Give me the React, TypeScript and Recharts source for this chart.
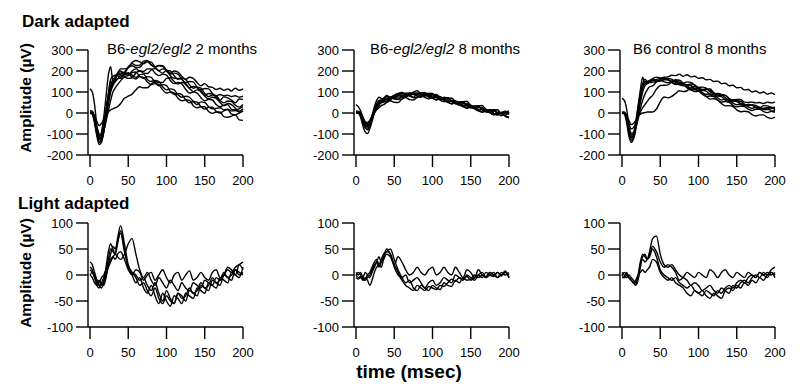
import React from 'react';
import { LineChart, Line, XAxis, YAxis } from 'recharts';

const FONT = "'Liberation Sans', Arial, Helvetica, sans-serif";

// sample times (msec), denser during the a-wave / b-wave onset
const times = [0, 3, 6, 9, 12, 15, 18, 21, 24, 27, 30, 33, 36, 40, 45, 50, 55, 60, 65, 70, 75, 80, 85, 90, 95, 100,
  105, 110, 115, 120, 125, 130, 135, 140, 145, 150, 155, 160, 165, 170, 175, 180, 185, 190, 195, 200];

const xTicks = [0, 50, 100, 150, 200];
const darkTicks = [-200, -100, 0, 100, 200, 300];
const lightTicks = [-100, -50, 0, 50, 100];

// Dark adapted, B6-egl2/egl2 2 months
const dark2mo = [
  [0, -5, -40, -100, -140, -120, -60, 20, 90, 150, 140, 170, 190, 210, 210, 215, 240, 250, 243, 235, 245, 242, 220, 202, 210, 205, 177, 165, 165, 162, 135, 120, 127, 120, 100, 85, 93, 90, 73, 60, 77, 72, 61, 48, 67, 65],
  [0, 0, -30, -90, -120, -90, -20, 80, 180, 220, 150, 160, 185, 190, 195, 220, 235, 227, 228, 247, 250, 230, 220, 227, 225, 205, 190, 200, 195, 175, 160, 170, 165, 145, 130, 140, 125, 122, 112, 118, 108, 115, 105, 118, 108, 115],
  [115, 100, 40, -60, -110, -130, -90, -20, 50, 110, 140, 150, 165, 165, 185, 192, 180, 170, 183, 185, 160, 150, 155, 150, 125, 110, 115, 110, 87, 75, 80, 75, 55, 40, 53, 50, 30, 20, 22, 25, 15, 18, 10, 12, 5, 8],
  [0, 0, -15, -40, -60, -50, -30, -10, 5, 15, 20, 25, 30, 45, 70, 80, 90, 110, 125, 120, 120, 137, 150, 145, 145, 165, 168, 150, 138, 145, 140, 117, 102, 110, 105, 80, 68, 75, 70, 50, 35, 45, 40, 23, 8, 20],
  [0, -5, -50, -110, -150, -140, -90, -20, 40, 100, 130, 150, 160, 180, 175, 178, 200, 210, 200, 198, 210, 210, 190, 178, 185, 180, 155, 140, 145, 138, 113, 95, 100, 95, 73, 58, 65, 62, 40, 30, 37, 40, 17, 15, 20, 30],
  [10, 10, -20, -80, -120, -110, -60, 10, 80, 130, 160, 172, 178, 170, 187, 188, 170, 162, 173, 170, 147, 135, 140, 135, 110, 95, 100, 95, 70, 58, 63, 60, 35, 25, 30, 30, 7, -2, 5, 5, -17, -20, -15, -8, -33, -35],
  [0, -2, -35, -95, -135, -130, -80, -10, 60, 120, 145, 165, 180, 185, 190, 215, 225, 217, 218, 237, 245, 228, 218, 225, 222, 200, 185, 190, 185, 160, 145, 150, 148, 123, 110, 117, 115, 93, 82, 88, 82, 85, 78, 82, 75, 80],
  [0, 0, -25, -70, -100, -110, -85, -40, 10, 60, 100, 120, 135, 153, 170, 165, 168, 190, 200, 190, 188, 205, 212, 200, 190, 203, 200, 177, 160, 167, 160, 135, 118, 123, 118, 93, 78, 85, 82, 60, 48, 57, 55, 37, 28, 40],
  [5, 5, -30, -90, -125, -115, -70, 0, 90, 160, 175, 180, 185, 200, 187, 180, 193, 195, 175, 165, 173, 170, 145, 130, 135, 130, 103, 88, 93, 88, 63, 48, 55, 52, 30, 18, 27, 28, 7, 0, 10, 16, -5, -8, 0, 10],
];

// Dark adapted, B6-egl2/egl2 8 months
const dark8mo = [
  [40, 30, 10, -20, -50, -60, -45, -15, 15, 40, 55, 60, 65, 78, 71, 70, 84, 93, 84, 84, 94, 96, 88, 80, 89, 88, 74, 64, 74, 70, 56, 44, 54, 50, 36, 24, 34, 30, 16, 4, 14, 13, -2, -13, 2, 0],
  [0, 0, -20, -60, -90, -98, -75, -40, 0, 30, 50, 55, 60, 57, 74, 83, 76, 77, 94, 96, 88, 87, 96, 98, 84, 74, 82, 78, 64, 52, 59, 56, 41, 30, 39, 36, 21, 10, 19, 16, 1, -8, -1, 0, -16, -23],
  [0, 0, -10, -30, -50, -55, -40, -10, 30, 60, 75, 70, 65, 66, 67, 84, 93, 84, 77, 94, 96, 81, 80, 86, 88, 71, 64, 69, 70, 51, 44, 49, 50, 31, 22, 29, 28, 11, 4, 12, 13, -2, -8, 1, 8, -6],
  [5, 5, -5, -25, -45, -50, -40, -20, 0, 15, 25, 35, 40, 49, 58, 51, 50, 66, 73, 64, 62, 76, 83, 74, 67, 76, 78, 61, 54, 62, 60, 46, 37, 44, 46, 28, 20, 26, 26, 8, 2, 9, 10, -4, -11, 4],
  [0, -2, -15, -45, -70, -80, -65, -30, 10, 45, 60, 62, 70, 83, 76, 77, 92, 98, 91, 84, 99, 106, 91, 84, 94, 93, 76, 67, 74, 73, 54, 47, 52, 53, 34, 27, 32, 33, 14, 7, 14, 16, -2, -3, 4, 10],
  [5, 2, -10, -35, -60, -65, -50, -25, 5, 25, 40, 50, 55, 52, 66, 76, 66, 67, 82, 88, 74, 74, 84, 93, 76, 70, 76, 78, 61, 52, 59, 58, 44, 34, 42, 38, 24, 12, 22, 18, 4, -8, 2, -2, -12, -20],
  [0, 0, -12, -40, -65, -72, -60, -30, 0, 20, 35, 55, 70, 71, 64, 82, 90, 76, 77, 86, 96, 81, 74, 89, 86, 71, 62, 72, 70, 54, 44, 54, 50, 36, 24, 34, 30, 16, 4, 14, 13, -2, -10, 4, 3, -7],
  [10, 8, 0, -20, -40, -45, -35, -15, 10, 30, 45, 48, 52, 62, 73, 66, 64, 82, 88, 81, 74, 92, 93, 86, 77, 86, 88, 71, 64, 72, 70, 56, 47, 54, 56, 36, 30, 34, 36, 16, 10, 14, 16, -2, -3, 4],
];

// Dark adapted, B6 control 8 months
const darkCtl = [
  [0, 0, -30, -90, -120, -100, -40, 30, 90, 130, 150, 145, 150, 155, 160, 165, 170, 172, 180, 178, 185, 175, 182, 172, 175, 165, 168, 158, 160, 150, 152, 140, 142, 130, 132, 120, 122, 110, 112, 100, 105, 95, 100, 90, 95, 88],
  [70, 60, 20, -60, -110, -120, -80, -10, 60, 120, 140, 145, 148, 156, 152, 152, 158, 158, 145, 136, 138, 136, 119, 109, 111, 106, 89, 79, 81, 78, 62, 52, 55, 51, 37, 29, 33, 31, 19, 12, 18, 18, 7, 2, 8, 11],
  [0, 0, -10, -35, -55, -50, -35, -15, -5, 0, 2, 5, 5, 5, 19, 53, 76, 72, 79, 93, 106, 102, 106, 121, 126, 119, 112, 115, 114, 97, 86, 88, 84, 67, 56, 58, 56, 42, 34, 38, 36, 25, 19, 25, 26, 15],
  [5, 5, -15, -50, -75, -70, -50, -20, 5, 25, 40, 55, 70, 84, 113, 131, 132, 134, 148, 154, 147, 142, 148, 146, 132, 122, 123, 118, 102, 92, 93, 88, 72, 62, 63, 61, 45, 36, 41, 38, 27, 19, 23, 24, 9, 4],
  [0, -5, -45, -110, -140, -125, -60, 30, 110, 170, 140, 150, 155, 163, 171, 167, 162, 165, 161, 145, 134, 135, 131, 112, 102, 103, 96, 79, 66, 68, 61, 45, 34, 35, 31, 15, 6, 8, 6, -8, -14, -9, -9, -21, -26, -19],
  [0, 0, -35, -95, -130, -115, -60, 10, 80, 140, 160, 150, 148, 158, 152, 154, 161, 161, 147, 139, 143, 141, 125, 114, 118, 114, 97, 89, 91, 86, 72, 62, 65, 61, 47, 39, 43, 41, 29, 22, 28, 28, 17, 16, 21, 26],
  [0, 0, -25, -75, -105, -100, -65, -10, 50, 100, 130, 140, 145, 147, 149, 161, 166, 157, 152, 158, 156, 142, 134, 138, 134, 119, 109, 113, 108, 92, 84, 85, 84, 69, 62, 65, 64, 52, 50, 52, 48, 50, 45, 52, 48, 52],
  [0, 2, -20, -65, -95, -95, -70, -30, 20, 60, 90, 110, 125, 129, 148, 156, 149, 144, 151, 151, 137, 129, 133, 131, 115, 106, 108, 104, 89, 79, 81, 78, 62, 54, 58, 54, 42, 34, 38, 38, 27, 22, 35, 34, 27, 26],
];

// Light adapted, B6-egl2/egl2 2 months
const light2mo = [
  [10, 5, -5, -15, -20, -15, -5, 10, 30, 50, 45, 40, 70, 95, 60, 20, 5, 0, -10, -5, -20, -30, -15, -35, -50, -30, -45, -55, -35, -40, -50, -30, -35, -40, -20, -25, -30, -10, -15, -20, 0, -5, -10, 10, 5, 0],
  [0, -5, -15, -20, -10, -20, -10, 15, 45, 60, 50, 40, 60, 85, 50, 15, 0, -15, -5, -25, -35, -20, -40, -55, -35, -50, -60, -40, -45, -55, -35, -40, -45, -25, -30, -35, -15, -20, -25, -5, -10, -15, 5, 0, -5, 15],
  [25, 20, 5, -10, -20, -25, -15, 0, 15, 25, 35, 40, 35, 30, 40, 60, 70, 40, 10, -5, 5, -10, -20, -5, -15, -25, -10, -20, -30, -15, -25, -30, -15, -20, -25, -10, -15, -20, -5, -10, 0, 10, 5, 15, 20, 25],
  [0, 5, 0, -10, -15, -5, 0, 10, 20, 30, 35, 30, 40, 45, 30, 10, 0, 10, 5, -10, 0, 5, -10, 0, 10, -5, -15, 0, 5, -10, 0, 8, -10, -5, 5, -5, -10, 5, 10, -5, 0, 15, 10, 0, 20, 10],
  [15, 10, -5, -20, -25, -15, -20, -5, 20, 40, 55, 50, 65, 80, 45, 15, 5, -5, -20, -15, -30, -40, -25, -45, -55, -40, -50, -55, -35, -45, -40, -25, -35, -30, -15, -25, -20, -5, -15, -10, 5, -5, 0, 10, 0, 5],
];

// Light adapted, B6-egl2/egl2 8 months
const light8mo = [
  [5, 0, 5, -5, -8, 0, 5, 15, 25, 30, 20, 30, 40, 45, 50, 30, 10, -5, -15, -10, -25, -30, -20, -25, -30, -20, -25, -28, -15, -20, -22, -10, -15, -5, -10, -8, 0, -5, 0, -3, 5, 0, 5, -2, 5, 0],
  [0, 5, 0, -5, 5, 0, -5, 5, 15, 25, 35, 25, 30, 40, 35, 20, 35, 25, 10, 0, 5, 15, 5, 0, 10, 15, 0, 5, 15, 5, 0, 15, 5, -5, 10, 5, -5, 10, 0, -5, 5, 0, -5, 5, 0, 5],
  [-5, -8, -5, -10, -5, -10, -20, -10, 5, 15, 20, 15, 30, 45, 40, 15, 0, -5, 0, -15, -10, -5, -15, -25, -15, -10, -20, -15, -5, -10, -15, 0, -5, -10, 0, -5, -10, 0, 5, -5, 0, 5, -5, 0, 5, -5],
  [0, -5, -3, -8, -10, -5, 0, 10, 20, 25, 15, 25, 35, 50, 40, 20, 5, -10, -20, -25, -30, -20, -25, -30, -22, -25, -28, -20, -22, -15, -8, -12, -5, -8, -3, -10, -5, 0, -5, 5, 0, -3, 5, 0, 8, -5],
];

// Light adapted, B6 control 8 months
const lightCtl = [
  [0, -5, 5, -5, -10, -15, -20, -10, 15, 35, 40, 30, 45, 70, 75, 40, 20, 15, 20, 10, 0, -5, -10, -20, -15, -20, -30, -25, -20, -30, -35, -25, -30, -35, -20, -25, -15, -10, -15, -5, 0, -5, 5, 0, 10, 15],
  [5, 0, -5, 0, -5, -10, -15, 0, 25, 40, 35, 30, 40, 55, 45, 25, 15, 20, 15, 5, -10, -5, 5, 0, -5, 5, 0, -5, 10, 5, -5, 5, 10, 0, -5, 5, 0, -5, 5, 0, -5, 5, 0, -5, 5, 0],
  [-5, -5, 0, -5, -10, -15, -10, 0, 5, 10, 5, 10, 15, 30, 25, 5, -5, -10, -5, -15, -20, -25, -35, -40, -30, -35, -40, -30, -35, -40, -30, -35, -25, -20, -25, -15, -10, -15, -5, 0, -5, 5, 0, 5, 0, 5],
  [0, 5, 0, -5, -10, -15, -18, -5, 20, 30, 25, 30, 35, 50, 35, 10, 0, -5, -10, -5, -15, -20, -25, -20, -30, -35, -30, -40, -45, -35, -40, -45, -30, -25, -30, -20, -25, -15, -20, -10, -15, -5, -10, 0, 5, -5],
];

interface PanelProps {
  left: number;
  top: number;
  plotHeight: number;
  traces: number[][];
  yDomain: [number, number];
  yTicks: number[];
}

const Panel = ({ left, top, plotHeight, traces, yDomain, yTicks }: PanelProps) => {
  const rows = times.map((t, i) => {
    const r: Record<string, number> = { t };
    traces.forEach((tr, k) => {
      r['s' + k] = tr[i];
    });
    return r;
  });
  const axisStyle = { stroke: '#000', strokeWidth: 1.4 };
  const tickStyle = { fill: '#000', fontSize: 13, fontFamily: FONT };
  return (
    <div style={{ position: 'absolute', left, top }}>
      <LineChart
        width={219}
        height={plotHeight + 50}
        data={rows}
        margin={{ top: 10, right: 14, bottom: 0, left: 0 }}
      >
        <XAxis
          type="number"
          dataKey="t"
          domain={[0, 200]}
          ticks={xTicks}
          interval={0}
          padding={{ left: 2, right: 0 }}
          height={40}
          tickSize={12}
          tickMargin={9}
          axisLine={axisStyle}
          tickLine={axisStyle}
          tick={tickStyle}
        />
        <YAxis
          type="number"
          domain={yDomain}
          ticks={yTicks}
          interval={0}
          width={50}
          tickSize={12}
          tickMargin={3}
          axisLine={axisStyle}
          tickLine={axisStyle}
          tick={tickStyle}
        />
        {traces.map((_, k) => (
          <Line
            key={k}
            dataKey={'s' + k}
            type="monotone"
            stroke="#000"
            strokeWidth={1.4}
            dot={false}
            isAnimationActive={false}
          />
        ))}
      </LineChart>
    </div>
  );
};

const Title = ({ x, name, age }: { x: number; name?: string; age: string }) => (
  <text x={x} y={54} fontSize={15} fontFamily={FONT} fill="#000">
    {name ? (
      <>
        B6-<tspan fontStyle="italic">{name}</tspan> {age}
      </>
    ) : (
      age
    )}
  </text>
);

export default function App() {
  return (
    <div style={{ position: 'absolute', left: 0, top: 0, width: 800, height: 389, background: '#fff' }}>
      <Panel left={38} top={40} plotHeight={105} traces={dark2mo} yDomain={[-200, 300]} yTicks={darkTicks} />
      <Panel left={304} top={40} plotHeight={105} traces={dark8mo} yDomain={[-200, 300]} yTicks={darkTicks} />
      <Panel left={570} top={40} plotHeight={105} traces={darkCtl} yDomain={[-200, 300]} yTicks={darkTicks} />
      <Panel left={38} top={213} plotHeight={104} traces={light2mo} yDomain={[-100, 100]} yTicks={lightTicks} />
      <Panel left={304} top={213} plotHeight={104} traces={light8mo} yDomain={[-100, 100]} yTicks={lightTicks} />
      <Panel left={570} top={213} plotHeight={104} traces={lightCtl} yDomain={[-100, 100]} yTicks={lightTicks} />
      <svg
        width={800}
        height={389}
        style={{ position: 'absolute', left: 0, top: 0, pointerEvents: 'none' }}
      >
        <text x={22} y={27} fontSize={17} fontWeight="bold" fontFamily={FONT}>Dark adapted</text>
        <text x={18} y={209} fontSize={17} fontWeight="bold" fontFamily={FONT}>Light adapted</text>
        <text x={31} y={98} fontSize={15.5} fontWeight="bold" fontFamily={FONT} textAnchor="middle" transform="rotate(-90 31 98)">
          Amplitude (µV)
        </text>
        <text x={31} y={273} fontSize={15.5} fontWeight="bold" fontFamily={FONT} textAnchor="middle" transform="rotate(-90 31 273)">
          Amplitude (µV)
        </text>
        <Title x={107} name="egl2/egl2" age="2 months" />
        <Title x={370} name="egl2/egl2" age="8 months" />
        <Title x={633} age="B6 control 8 months" />
        <text x={409} y={378} fontSize={19} fontWeight="bold" fontFamily={FONT} textAnchor="middle">time (msec)</text>
      </svg>
    </div>
  );
}
